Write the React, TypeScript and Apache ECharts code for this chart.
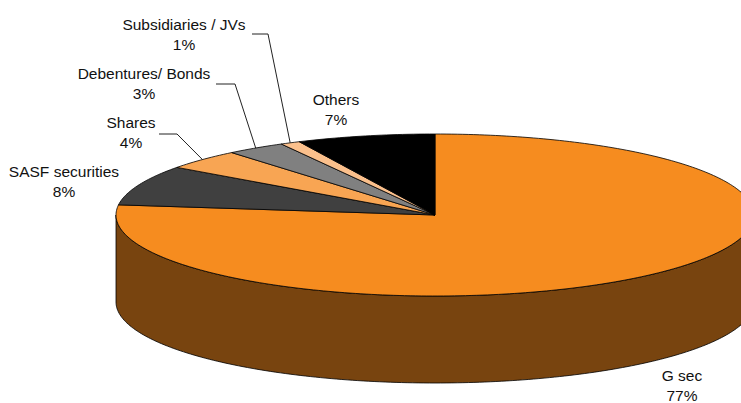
import React, { useEffect, useRef } from 'react';
import * as echarts from 'echarts';

// ---- data ----
const categories = ['G sec', 'SASF securities', 'Shares', 'Debentures/ Bonds', 'Subsidiaries / JVs', 'Others'];
const shares = [77, 8, 4, 3, 1, 7];

// ---- styles / layout (kept apart from the data) ----
const topColors = ['#F68C1F', '#404040', '#F8A553', '#808080', '#FBC08C', '#000000'];
const sideColors = ['#78440F', '#202020', '#7C5229', '#404040', '#7E6046', '#000000'];
const labelCentres = [[682, 385], [64, 181], [131, 132], [144, 83], [184, 34], [336, 109]];
const leaderStarts: (number[] | null)[] = [null, null, [159, 134, 177], [216, 84, 235], [252, 34, 268], null];

const CX = 435, CY = 215, RX = 319, RY = 81, DEPTH = 87;

export default function App() {
  const ref = useRef<HTMLDivElement>(null);
  useEffect(() => {
    if (!ref.current) return;
    const chart = echarts.init(ref.current, undefined, { renderer: 'svg' });
    const total = shares.reduce((a, b) => a + b, 0);
    const starts: number[] = [];
    let acc = 0;
    shares.forEach((v) => { starts.push(acc); acc += v; });
    const ang = (f: number) => ((90 - f * 360) * Math.PI) / 180;
    const pt = (t: number, dy = 0) => [CX + RX * Math.cos(t), CY - RY * Math.sin(t) + dy];
    const arc = (a: number, b: number, dy = 0) => {
      const n = Math.max(2, Math.ceil(Math.abs(b - a) / (Math.PI / 180)));
      const out: number[][] = [];
      for (let k = 0; k <= n; k++) out.push(pt(a + ((b - a) * k) / n, dy));
      return out;
    };

    const renderItem = (params: any, api: any) => {
      const i = params.dataIndex;
      const v = api.value(1) as number;
      const t0 = ang(starts[i] / total);
      const t1 = ang((starts[i] + v) / total);
      const children: any[] = [];
      // side faces (front half only)
      for (let k = -2; k <= 1; k++) {
        const lo = -Math.PI + 2 * Math.PI * k;
        const hi = 0 + 2 * Math.PI * k;
        const s = Math.max(lo, t1);
        const e = Math.min(hi, t0);
        if (e > s) {
          const pts = arc(s, e).concat(arc(e, s, DEPTH));
          children.push({
            type: 'polygon',
            z2: 1,
            shape: { points: pts },
            style: { fill: sideColors[i], stroke: '#000', lineWidth: 0.8 },
          });
        }
      }
      // top face
      const topPts = [[CX, CY]].concat(arc(t0, t1));
      children.push({
        type: 'polygon',
        z2: 10,
        shape: { points: topPts },
        style: { fill: topColors[i], stroke: '#000', lineWidth: 0.8 },
      });
      // label
      const [lx, ly] = labelCentres[i];
      children.push({
        type: 'text',
        z2: 20,
        style: {
          text: `${categories[i]}\n${v}%`,
          x: lx,
          y: ly,
          align: 'center',
          verticalAlign: 'middle',
          fontSize: 15.5,
          lineHeight: 20,
          fontFamily: 'Liberation Sans, Arial, sans-serif',
          fill: '#111',
        },
      });
      const ls = leaderStarts[i];
      if (ls) {
        const mid = pt(ang((starts[i] + v / 2) / total));
        children.push({
          type: 'polyline',
          z2: 20,
          shape: { points: [[ls[0], ls[1]], [ls[2], ls[1]], mid] },
          style: { stroke: '#222', lineWidth: 1, fill: 'none' },
        });
      }
      return { type: 'group', children };
    };

    chart.setOption({
      animation: false,
      backgroundColor: '#ffffff',
      series: [
        {
          type: 'custom',
          coordinateSystem: 'none',
          renderItem,
          data: shares.map((v, i) => ({ name: categories[i], value: [i, v] })),
        },
      ],
    });
    return () => chart.dispose();
  }, []);
  return (
    <div
      ref={ref}
      style={{ position: 'absolute', left: 0, top: 0, width: 741, height: 403, background: '#fff' }}
    />
  );
}
